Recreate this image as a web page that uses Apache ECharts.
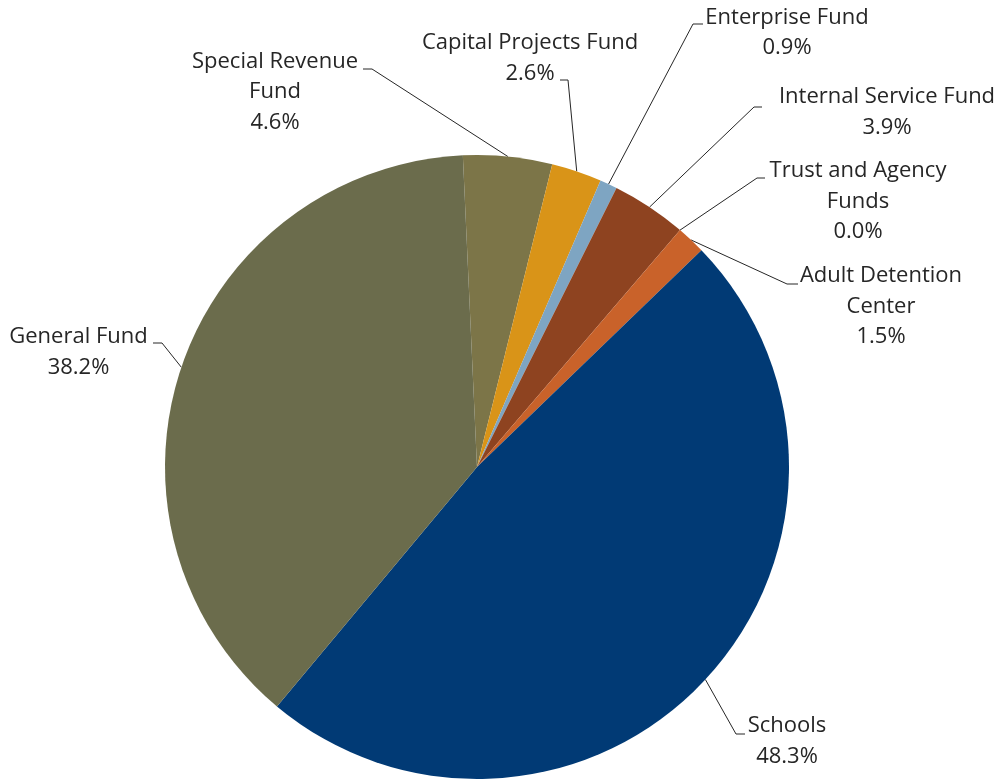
<!DOCTYPE html>
<html>
<head>
<meta charset="utf-8">
<title>Fund Share</title>
<script src="https://cdn.jsdelivr.net/npm/echarts@6/dist/echarts.min.js"></script>
<style>
  html, body { margin: 0; padding: 0; background: #ffffff; }
  #chart { width: 1001px; height: 782px; }
</style>
</head>
<body>
<div id="chart"></div>
<script>
// Funds, clockwise from just left of twelve o'clock
const categories = [
  'Special Revenue\nFund',
  'Capital Projects Fund',
  'Enterprise Fund',
  'Internal Service Fund',
  'Trust and Agency\nFunds',
  'Adult Detention\nCenter',
  'Schools',
  'General Fund'
];
// Share of total, percent
const shares = [4.6, 2.6, 0.9, 3.9, 0.0, 1.5, 48.3, 38.2];
const sliceColors = ['#7c7548', '#d99418', '#7ea5c2', '#8e4320', '#9a9a9a', '#c9622a', '#013a75', '#6b6c4c'];

// Label placement: centre of each text block, and where its leader line hooks on
// [centreX, centreY, hookDx, hookDy, elbowDx]
const labelSpots = [
  [275, 92, 88, -23, 9],
  [530, 58, 30, 22, 8],
  [787, 32.5, -84, -8.5, -10],
  [887, 112, -125, -5, -8],
  [858, 201.5, -93, -23.5, -8],
  [881, 306.5, -83, -22.5, -11],
  [787, 741, -42, -7, -9],
  [78.5, 352, 74.5, -9, 9]
];

const chart = echarts.init(document.getElementById('chart'), null, { renderer: 'canvas' });

chart.setOption({
  animation: false,
  backgroundColor: '#ffffff',
  series: [{
    type: 'pie',
    center: [477, 467],
    radius: 312,
    startAngle: 92.6,
    clockwise: true,
    avoidLabelOverlap: false,
    minAngle: 0,
    data: categories.map((name, i) => ({
      name: name,
      value: shares[i],
      itemStyle: { color: sliceColors[i] }
    })),
    itemStyle: { borderWidth: 0 },
    emphasis: { disabled: true },
    label: {
      show: true,
      position: 'outside',
      formatter: (p) => p.name + '\n' + p.value.toFixed(1) + '%',
      fontFamily: 'Open Sans',
      fontSize: 22,
      lineHeight: 30.5,
      color: '#262626',
      align: 'center'
    },
    labelLine: {
      show: true,
      length: 10,
      length2: 10,
      lineStyle: { color: '#262626', width: 1 }
    },
    labelLayout: (params) => {
      const spot = labelSpots[params.dataIndex];
      const hook = [spot[0] + spot[2], spot[1] + spot[3]];
      const elbow = [hook[0] + spot[4], hook[1]];
      const start = params.labelLinePoints ? params.labelLinePoints[0] : elbow;
      return {
        x: spot[0],
        y: spot[1],
        align: 'center',
        verticalAlign: 'middle',
        labelLinePoints: [start, elbow, hook]
      };
    }
  }]
});
</script>
</body>
</html>
